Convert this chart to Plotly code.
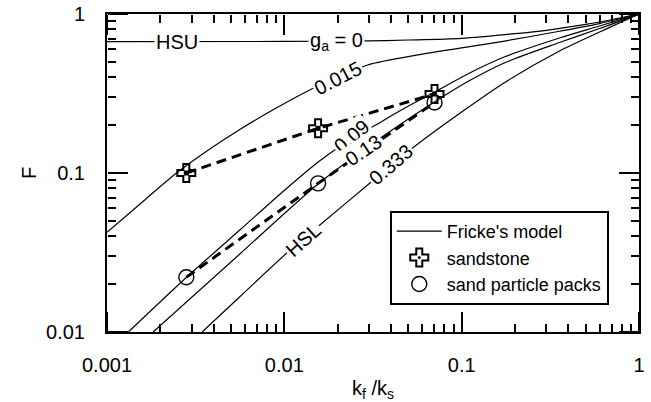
import numpy as np
import plotly.graph_objects as go

# Fricke's model: F against k_f/k_s for several depolarization factors g_a
x_g0 = [0.001, 0.01, 0.03, 0.05, 0.1, 0.2, 0.3, 0.5, 0.7, 1.0]
f_g0 = [0.670, 0.672, 0.678, 0.686, 0.703, 0.752, 0.790, 0.860, 0.920, 1.0]

x_g015 = [0.001, 0.00167, 0.00258, 0.00561, 0.0139, 0.0206, 0.0295, 0.058, 0.1, 0.175, 0.356, 0.599, 1.0]
f_g015 = [0.0424, 0.0692, 0.104, 0.188, 0.333, 0.402, 0.478, 0.555, 0.612, 0.676, 0.779, 0.871, 1.0]

x_g09 = [0.00132, 0.00281, 0.00561, 0.01006, 0.01585, 0.02339, 0.03236, 0.0475, 0.0705, 0.1102, 0.175, 0.356, 0.599, 1.0]
f_g09 = [0.01, 0.0221, 0.0438, 0.0782, 0.1193, 0.1612, 0.1989, 0.2552, 0.3231, 0.4240, 0.538, 0.7065, 0.8405, 1.0]

x_g13 = [0.00182, 0.00561, 0.0155, 0.03236, 0.0702, 0.1102, 0.175, 0.356, 0.599, 1.0]
f_g13 = [0.01, 0.03095, 0.0853, 0.1567, 0.2796, 0.380, 0.494, 0.6619, 0.8105, 1.0]

x_g333 = [0.00344, 0.00561, 0.01029, 0.01585, 0.02904, 0.05556, 0.1, 0.175, 0.356, 0.599, 1.0]
f_g333 = [0.01, 0.01667, 0.03126, 0.0471, 0.0828, 0.150, 0.2420, 0.3712, 0.5852, 0.7705, 1.0]

# Measurements
sample_ratio = [0.0028, 0.0155, 0.0703]
sandstone_F = [0.100, 0.191, 0.314]
sand_pack_F = [0.0221, 0.0861, 0.2776]

# Axis ticks
x_major = [0.001, 0.01, 0.1, 1]
x_text = ["0.001", "0.01", "0.1", "1"]
x_minor = [m * d for d in (0.001, 0.01, 0.1) for m in range(2, 10)]
y_major = [0.01, 0.1, 1]
y_text = ["0.01", "0.1", "1"]
y_minor = [m * d for d in (0.01, 0.1) for m in range(2, 10)]

FONT = "Liberation Sans, Arial, sans-serif"
FS = 20
X_RANGE = [-3, 0]
Y_RANGE = [-2, 0]

fig = go.Figure()

curves = [(x_g0, f_g0), (x_g015, f_g015), (x_g09, f_g09), (x_g13, f_g13), (x_g333, f_g333)]
for i, (xs, fs) in enumerate(curves):
    fig.add_trace(go.Scatter(
        x=xs, y=fs, mode="lines",
        line=dict(color="black", width=1.2, shape="spline", smoothing=0.8),
        name="Fricke's model", showlegend=(i == 0), legendrank=1,
    ))

for ys in (sandstone_F, sand_pack_F):
    fig.add_trace(go.Scatter(
        x=sample_ratio, y=ys, mode="lines",
        line=dict(color="black", width=3, dash="10px,6px"),
        showlegend=False,
    ))

fig.add_trace(go.Scatter(
    x=sample_ratio, y=sandstone_F, mode="markers", name="sandstone",
    marker=dict(symbol="cross-open-dot", size=15, color="black",
                line=dict(color="black", width=2)),
    legendrank=2,
))
# solid centre square of the sandstone symbol
fig.add_trace(go.Scatter(
    x=sample_ratio, y=sandstone_F, mode="markers", showlegend=False,
    marker=dict(symbol="square", size=5, color="black"), hoverinfo="skip",
))
fig.add_trace(go.Scatter(
    x=sample_ratio, y=sand_pack_F, mode="markers", name="sand particle packs",
    marker=dict(symbol="circle-open", size=15, color="black",
                line=dict(color="black", width=1.4)),
    legendrank=3,
))

# Curve labels sitting on the lines
labels = [
    ("HSU", 0.00248, 0.670, 0),
    ("g<sub>a</sub> = 0", 0.0198, 0.670, 0),
    ("0.015", 0.0201, 0.394, -27),
    ("0.09", 0.0240, 0.171, -40),
    ("0.13", 0.0281, 0.1395, -34),
    ("0.333", 0.0397, 0.1123, -41),
    ("HSL", 0.01276, 0.0379, -42),
]
for text, lx, ly, ang in labels:
    fig.add_annotation(
        x=np.log10(lx), y=np.log10(ly), xref="x", yref="y", text=text,
        showarrow=False, textangle=ang, bgcolor="white", borderpad=1,
        font=dict(family=FONT, size=FS, color="black"),
    )

# Tick marks pointing into the frame: free overlay axes whose "outside"
# direction faces the plot area.
tick_axes = {}
tick_sets = [
    # (x side, x pos, y side, y pos, x vals, y vals, length, width)
    ("top", 0, "right", 0, x_major, y_major, 20, 2),
    ("top", 0, "right", 0, x_minor, y_minor, 8, 1.6),
    ("bottom", 1, "left", 1, x_major, y_major, 20, 2),
    ("bottom", 1, "left", 1, x_minor, y_minor, 8, 1.6),
]
for k, (xs_side, xpos, ys_side, ypos, xv, yv, tl, tw) in enumerate(tick_sets, start=2):
    common = dict(type="log", tickmode="array", showticklabels=False,
                  showgrid=False, zeroline=False, showline=False,
                  ticks="outside", ticklen=tl, tickwidth=tw, tickcolor="black",
                  anchor="free")
    tick_axes[f"xaxis{k}"] = dict(range=X_RANGE, overlaying="x", side=xs_side,
                                  position=xpos, tickvals=xv, **common)
    tick_axes[f"yaxis{k}"] = dict(range=Y_RANGE, overlaying="y", side=ys_side,
                                  position=ypos, tickvals=yv, **common)
    fig.add_trace(go.Scatter(x=[None], y=[None], xaxis=f"x{k}", yaxis=f"y{k}",
                             showlegend=False, hoverinfo="skip"))

fig.update_layout(
    template="none",
    xaxis=dict(
        type="log", range=X_RANGE, tickmode="array", tickvals=x_major,
        ticktext=x_text, showgrid=False, zeroline=False,
        showline=True, linecolor="black", linewidth=2, mirror=True,
        ticks="", ticklabelstandoff=14, automargin=False,
        tickfont=dict(family=FONT, size=FS, color="black"),
        title=dict(text="k<sub>f</sub> /k<sub>s</sub>", standoff=19,
                   font=dict(family=FONT, size=FS, color="black")),
    ),
    yaxis=dict(
        type="log", range=Y_RANGE, tickmode="array", tickvals=y_major,
        ticktext=y_text, showgrid=False, zeroline=False,
        showline=True, linecolor="black", linewidth=2, mirror=True,
        ticks="", ticklabelstandoff=16, automargin=False,
        tickfont=dict(family=FONT, size=FS, color="black"),
        title=dict(text="F", standoff=4,
                   font=dict(family=FONT, size=FS, color="black")),
    ),
    **tick_axes,
    width=651, height=402,
    margin=dict(l=107, r=11.5, t=14, b=70),
    paper_bgcolor="white", plot_bgcolor="white",
    font=dict(family=FONT, size=FS, color="black"),
    legend=dict(
        x=0.5315, y=0.3805, xanchor="left", yanchor="top",
        bgcolor="white", bordercolor="black", borderwidth=2,
        font=dict(family=FONT, size=18, color="black"),
        itemwidth=45, tracegroupgap=0,
    ),
)

fig.write_html("out.html")
